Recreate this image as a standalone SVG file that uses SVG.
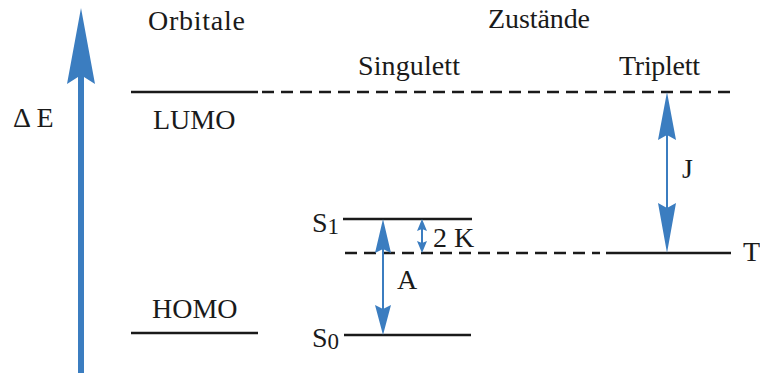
<svg xmlns="http://www.w3.org/2000/svg" width="760" height="373" viewBox="0 0 760 373">
<style>
.t{font-family:'Liberation Serif','DejaVu Serif',serif;font-size:28px;fill:#1a1a1a}
.lvl{stroke:#1a1a1a;stroke-width:2.5;fill:none}
.dash{stroke:#1a1a1a;stroke-width:2.5;fill:none;stroke-dasharray:12 7}
.shaft{stroke:#3b7dc0;stroke-width:2;fill:none}
.head{fill:#3b7dc0}
</style>
<rect width="760" height="373" fill="#fff"/>
<g id="energy-axis">
<path class="head" d="M81,8 L95,84 L84,77 L84,373 L78,373 L78,77 L67,84 Z"/>
<text class="t" x="13" y="127">Δ E</text>
</g>
<g id="headers">
<text class="t" x="148" y="30" textLength="97">Orbitale</text>
<text class="t" x="488" y="28" textLength="102">Zustände</text>
<text class="t" x="358" y="75" textLength="102">Singulett</text>
<text class="t" x="619" y="75" textLength="81">Triplett</text>
</g>
<g id="lumo">
<line class="lvl" x1="131" y1="92" x2="258" y2="92"/>
<text class="t" x="153" y="129">LUMO</text>
</g>
<g id="homo">
<line class="lvl" x1="131" y1="333" x2="258" y2="333"/>
<text class="t" x="152" y="318">HOMO</text>
</g>
<g id="s1">
<line class="lvl" x1="343" y1="219" x2="472" y2="219"/>
<text class="t" x="312" y="232">S<tspan font-size="23" dy="2">1</tspan></text>
</g>
<g id="s0">
<line class="lvl" x1="344" y1="335" x2="471" y2="335"/>
<text class="t" x="312" y="347">S<tspan font-size="23" dy="2">0</tspan></text>
</g>
<g id="t">
<line class="lvl" x1="606" y1="253" x2="731" y2="253"/>
<text class="t" x="743" y="261">T</text>
</g>
<g id="connectors">
<line class="dash" x1="262" y1="92" x2="735" y2="92"/>
<line class="dash" x1="345" y1="253" x2="600" y2="253"/>
<line class="shaft" x1="383" y1="245" x2="383" y2="310"/>
<path class="head" d="M383,219 L391,253 L383,249 L375,253 Z"/>
<path class="head" d="M383,335 L391,305 L383,309 L375,305 Z"/>
<line class="shaft" x1="422" y1="228" x2="422" y2="244"/>
<path class="head" d="M422,219 L427,231 L422,229 L417,231 Z"/>
<path class="head" d="M422,253 L427,241 L422,243 L417,241 Z"/>
<line class="shaft" x1="667" y1="135" x2="667" y2="208"/>
<path class="head" d="M667,92 L676,140 L667,135 L658,140 Z"/>
<path class="head" d="M667,253 L676,203 L667,208 L658,203 Z"/>
</g>
<g id="labels">
<text class="t" x="433" y="247">2 K</text>
<text class="t" x="397" y="289">A</text>
<text class="t" x="682" y="178">J</text>
</g>
</svg>
